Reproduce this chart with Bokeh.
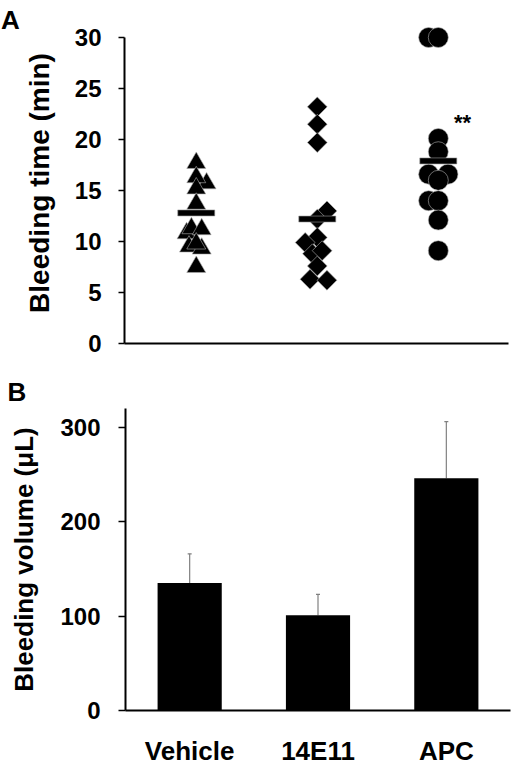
from bokeh.plotting import figure
from bokeh.models import Range1d, FactorRange, FixedTicker, Label
from bokeh.core.properties import value
from bokeh.layouts import column, row
from bokeh.embed import file_html
from bokeh.resources import INLINE

FONT = "Liberation Sans"

groups = ["Vehicle", "14E11", "APC"]

# panel A: bleeding time (min) per mouse, with small horizontal jitter
vehicle_time = [17.7, 15.7, 16.3, 15.2, 13.7, 10.8, 11.3, 11.2, 9.5, 9.3, 9.8, 7.5]
vehicle_jitter = [0, 0.085, 0, 0, 0, -0.08, -0.04, 0.045, -0.06, 0.045, 0, 0]
ab_time = [23.2, 21.5, 19.7, 13.0, 12.2, 10.4, 9.9, 8.8, 9.1, 7.6, 6.3, 6.2]
ab_jitter = [0, 0, 0, 0.08, 0, 0, -0.1, -0.04, 0.04, 0, -0.06, 0.08]
apc_time = [30, 30, 20.1, 18.8, 16.6, 16.6, 16.0, 14.0, 14.0, 12.1, 9.1]
apc_jitter = [-0.08, 0, 0, 0, -0.08, 0.08, 0, -0.08, 0, 0, 0]
time_means = [12.8, 12.2, 17.9]
time_ticks = [0, 5, 10, 15, 20, 25, 30]

# panel B: bleeding volume (uL), mean + SD
volume_means = [135, 101, 246]
volume_sd = [31, 22, 60]
volume_ticks = [0, 100, 200, 300]


def style_axes(p):
    p.xgrid.visible = False
    p.ygrid.visible = False
    p.outline_line_color = None
    for ax in p.xaxis + p.yaxis:
        ax.axis_line_width = 2
        ax.axis_line_color = "black"
        ax.major_tick_in = 0
        ax.minor_tick_in = 0
        ax.minor_tick_out = 0
        ax.major_tick_line_width = 1.5
        ax.major_label_text_font = FONT
        ax.major_label_text_font_style = "bold"
        ax.major_label_text_color = "black"
        ax.axis_label_text_font = FONT
        ax.axis_label_text_font_style = "bold"
        ax.axis_label_text_color = "black"


def letter_box(text, w, h, x, y_mid):
    # small blank figure that only holds a panel letter (text outside a frame is clipped)
    s = figure(width=w, height=h, x_range=Range1d(0, w), y_range=Range1d(0, h),
               x_axis_location=None, y_axis_location=None, title=None, frame_align=False,
               min_border_left=0, min_border_right=0, min_border_top=0, min_border_bottom=0,
               output_backend="svg", toolbar_location=None)
    s.grid.visible = False
    s.outline_line_color = None
    s.text(x=[x], y=[h - y_mid], text=[text], text_font=value(FONT), text_font_size="26px",
           text_font_style="bold", text_color="black", text_align="left", text_baseline="middle")
    return s


letter_a = letter_box("A", 20, 366, 0.5, 19)

# ---- panel A ----
pa = figure(width=500, height=366, x_range=Range1d(0.407, 3.58), y_range=Range1d(0, 31.47),
            min_border_left=100, min_border_right=12, min_border_top=22, min_border_bottom=23,
            title=None, frame_align=False, output_backend="svg", toolbar_location=None)
style_axes(pa)
pa.xaxis.ticker = FixedTicker(ticks=[])
pa.xaxis.major_tick_out = 0
ya = pa.yaxis[0]
ya.ticker = FixedTicker(ticks=time_ticks)
ya.bounds = (0, 30)
ya.major_tick_out = 6
ya.major_label_standoff = 17
ya.major_label_text_font_size = "24px"
ya.axis_label = "Bleeding time (min)"
ya.axis_label_text_font_size = "28px"
ya.axis_label_standoff = 17

edge = dict(fill_color="black", line_color="#b0b0b0", line_width=0.6)
pa.scatter([1 + j for j in vehicle_jitter], vehicle_time, marker="triangle", size=19, **edge)
pa.scatter([2 + j for j in ab_jitter], ab_time, marker="square", angle=0.785398, size=14, **edge)
pa.scatter([3 + j for j in apc_jitter], apc_time, marker="circle", size=20, **edge)
pa.rect(x=[1, 2, 3], y=time_means, width=37, height=6, width_units="screen", height_units="screen",
        fill_color="black", line_color="#999999", line_width=0.6)

pa.add_layout(Label(x=3.2, y=21.7, text="**", text_font=FONT, text_font_size="22px", text_color="black",
                    text_font_style="bold", text_align="center", text_baseline="middle"))

letter_b = letter_box("B", 520, 40, 7, 25)

# ---- panel B ----
pb = figure(width=520, height=364, x_range=FactorRange(factors=groups), y_range=Range1d(0, 320),
            min_border_left=125, min_border_right=10, min_border_top=2, min_border_bottom=60,
            title=None, frame_align=False, output_backend="svg", toolbar_location=None)
style_axes(pb)
xb = pb.xaxis[0]
xb.major_tick_out = 0
xb.major_label_standoff = 25
xb.major_label_text_font_size = "26px"
yb = pb.yaxis[0]
yb.ticker = FixedTicker(ticks=volume_ticks)
yb.major_tick_out = 7
yb.major_label_standoff = 18
yb.major_label_text_font_size = "24px"
yb.axis_label = "Bleeding volume (\u03bcL)"
yb.axis_label_text_font_size = "26px"
yb.axis_label_standoff = 18

upper = [m + s for m, s in zip(volume_means, volume_sd)]
pb.segment(x0=groups, y0=volume_means, x1=groups, y1=upper, line_color="#808080", line_width=1.2)
pb.scatter(x=groups, y=upper, marker="dash", size=4, line_color="#808080", line_width=1.2)
pb.vbar(x=groups, top=volume_means, width=0.5, fill_color="black", line_color=None)

p = column(row(letter_a, pa), letter_b, pb)
open("out.html", "w").write(file_html(p, INLINE))
